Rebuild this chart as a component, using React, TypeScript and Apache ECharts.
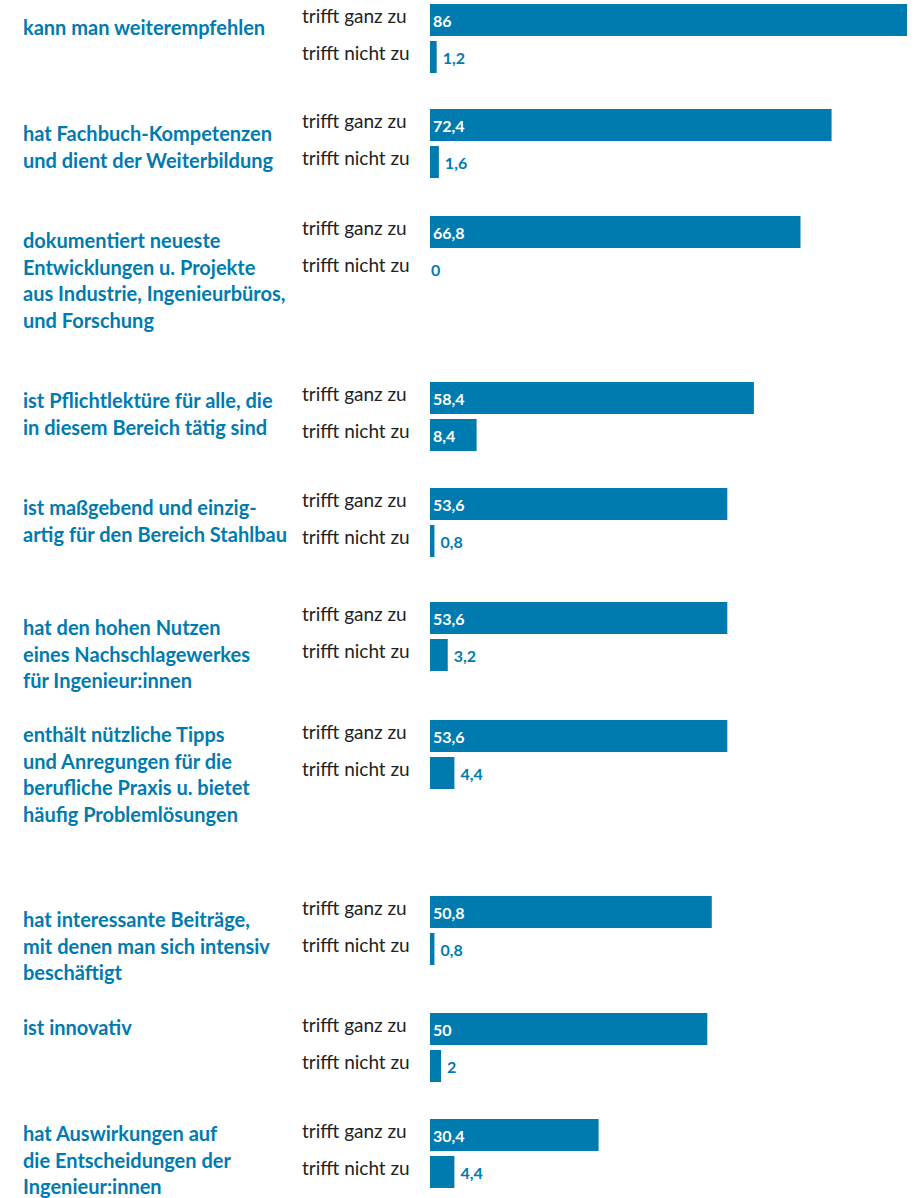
import React, { useEffect, useRef } from "react";
import * as echarts from "echarts";

const statements = [
  "kann man weiterempfehlen",
  "hat Fachbuch-Kompetenzen\nund dient der Weiterbildung",
  "dokumentiert neueste\nEntwicklungen u. Projekte\naus Industrie, Ingenieurbüros,\nund Forschung",
  "ist Pflichtlektüre für alle, die\nin diesem Bereich tätig sind",
  "ist maßgebend und einzig-\nartig für den Bereich Stahlbau",
  "hat den hohen Nutzen\neines Nachschlagewerkes\nfür Ingenieur:innen",
  "enthält nützliche Tipps\nund Anregungen für die\nberufliche Praxis u. bietet\nhäufig Problemlösungen",
  "hat interessante Beiträge,\nmit denen man sich intensiv\nbeschäftigt",
  "ist innovativ",
  "hat Auswirkungen auf\ndie Entscheidungen der\nIngenieur:innen",
];
const answers = ["trifft ganz zu", "trifft nicht zu"];
const ganzZu = [86, 72.4, 66.8, 58.4, 53.6, 53.6, 53.6, 50.8, 50, 30.4];
const nichtZu = [1.2, 1.6, 0, 8.4, 0.8, 3.2, 4.4, 0.8, 2, 4.4];

// layout (pixel positions of each group's block and its label)
const groupTops = [4, 109, 216, 382, 488, 602, 720, 896, 1013, 1119];
const labelTops = [27, 133, 240, 400, 507, 627, 734, 919, 1027, 1133];

const BLUE = "#007bb0";
const FONT = "Lato, 'Noto Sans', sans-serif";

export default function App() {
  const ref = useRef<HTMLDivElement>(null);
  useEffect(() => {
    if (!ref.current) return;
    const chart = echarts.init(ref.current, null, { renderer: "svg" });
    const fmt = (v: number) => String(v).replace(".", ",");
    const grids: any[] = [];
    const xAxes: any[] = [];
    const yAxes: any[] = [];
    const series: any[] = [];
    const graphics: any[] = [];
    statements.forEach((s, i) => {
      grids.push({ left: 430, width: 477, top: groupTops[i] - 2.5, height: 74 });
      xAxes.push({
        gridIndex: i,
        type: "value",
        min: 0,
        max: 86,
        show: false,
      });
      yAxes.push({
        gridIndex: i,
        type: "category",
        inverse: true,
        data: answers,
        axisLine: { show: false },
        axisTick: { show: false },
        axisLabel: {
          align: "left",
          margin: 128,
          color: "#222",
          fontFamily: FONT,
          fontSize: 19,
          verticalAlign: "bottom",
          lineHeight: 9,
        },
      });
      const vals = [ganzZu[i], nichtZu[i]];
      series.push({
        type: "bar",
        xAxisIndex: i,
        yAxisIndex: i,
        barWidth: 32,
        itemStyle: { color: BLUE },
        data: vals.map((v) => ({
          value: v,
          label:
            v > 5
              ? { show: true, position: "insideLeft", distance: 3, color: "#fff" }
              : { show: true, position: "right", distance: v === 0 ? 1 : 6, color: BLUE },
        })),
        label: {
          show: true,
          fontFamily: FONT,
          fontWeight: "bold",
          fontSize: 16,
          formatter: (p: any) => fmt(p.value),
        },
      });
      graphics.push({
        type: "text",
        left: 23,
        top: labelTops[i] - 13.3,
        style: {
          text: s,
          fill: BLUE,
          font: `bold 20px ${FONT}`,
          lineHeight: 26.7,
        },
      });
    });
    chart.setOption({
      animation: false,
      grid: grids,
      xAxis: xAxes,
      yAxis: yAxes,
      series,
      graphic: graphics,
    });
    return () => chart.dispose();
  }, []);
  return (
    <div
      ref={ref}
      style={{ position: "fixed", left: 0, top: 0, width: 915, height: 1198, background: "#fff" }}
    />
  );
}
